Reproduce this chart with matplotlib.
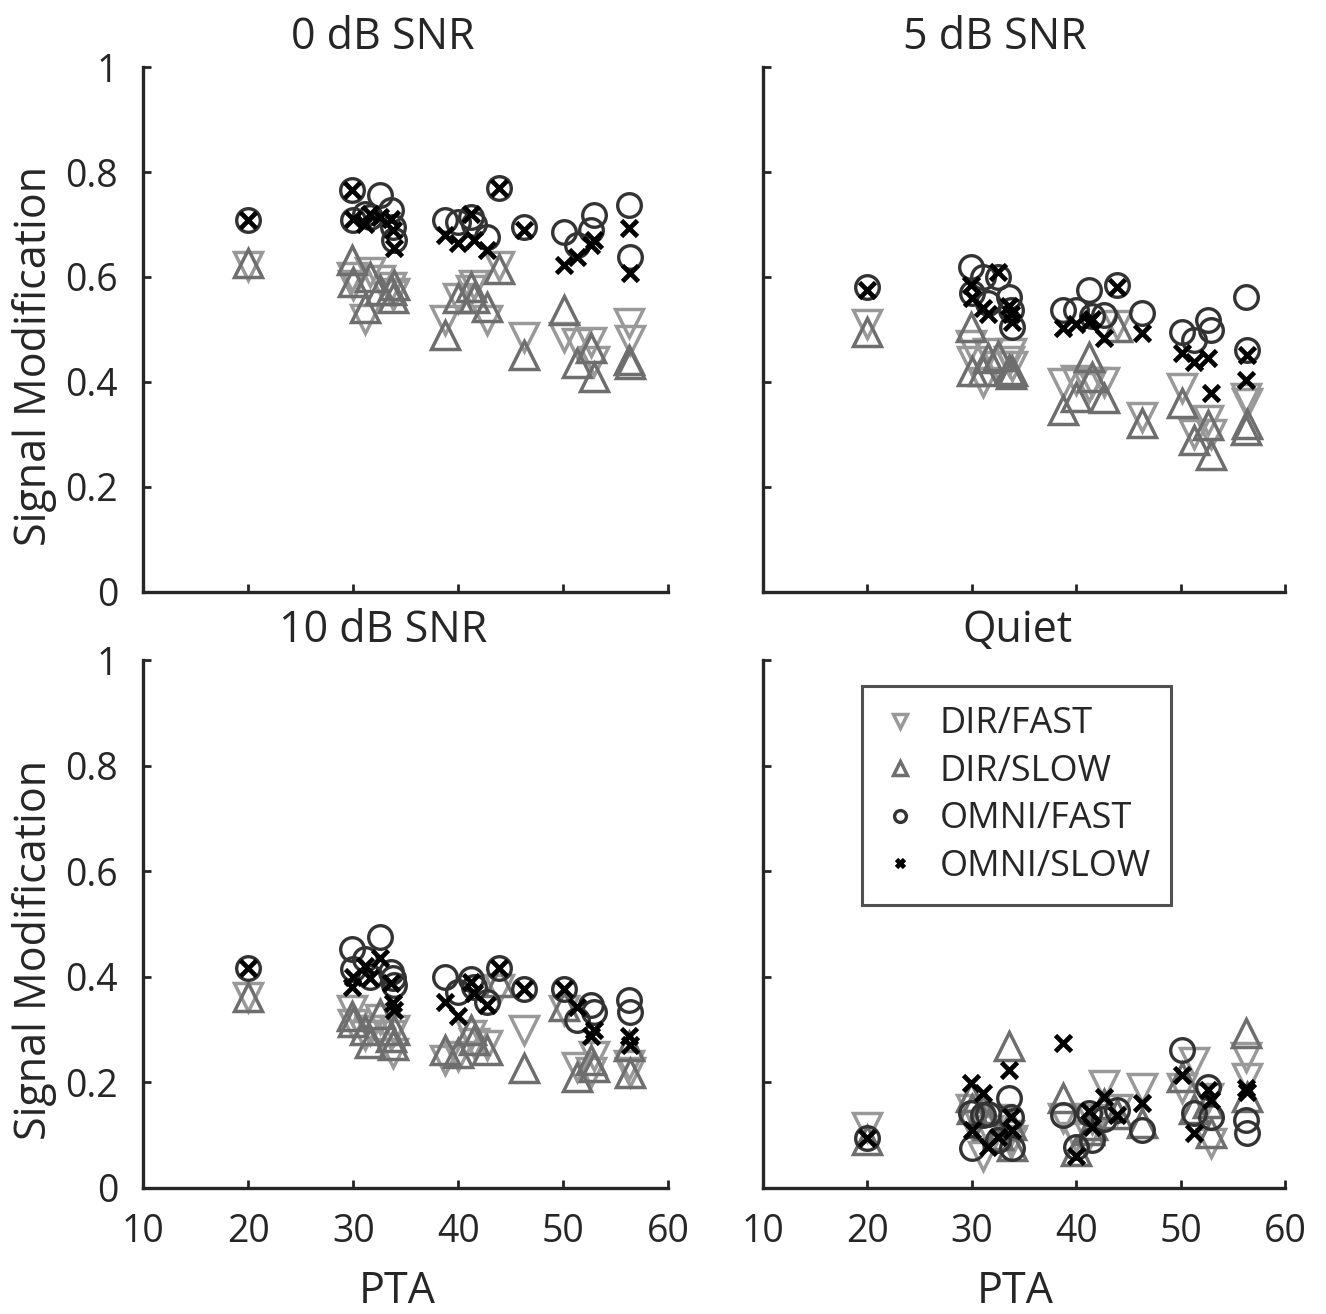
import matplotlib
matplotlib.use('Agg')
import matplotlib.pyplot as plt

plt.rcParams['font.family'] = ['Open Sans', 'DejaVu Sans']

# PTA of each listener (dB HL)
pta = [20.0, 29.9, 30.0, 31.1, 31.6, 32.5, 33.6, 33.8, 33.9, 38.7, 40.0,
       41.2, 41.5, 42.7, 43.9, 46.3, 50.1, 51.3, 52.6, 52.9, 56.3, 56.4]

# 0 dB SNR
snr0_dir_fast = [0.62, 0.60, 0.585, 0.52, 0.61, 0.595, 0.58, 0.565, 0.57, 0.518, 0.56,
                 0.575, 0.585, 0.518, 0.62, 0.486, 0.486, 0.474, 0.476, 0.44, 0.512, 0.48]
snr0_dir_slow = [0.627, 0.632, 0.59, 0.54, 0.60, 0.575, 0.575, 0.56, 0.585, 0.49, 0.56,
                 0.58, 0.56, 0.543, 0.615, 0.451, 0.537, 0.436, 0.465, 0.41, 0.442, 0.435]
snr0_omni_fast = [0.709, 0.766, 0.709, 0.72, 0.715, 0.756, 0.727, 0.695, 0.67, 0.709, 0.705,
                  0.714, 0.70, 0.677, 0.77, 0.695, 0.686, 0.66, 0.69, 0.718, 0.737, 0.638]
snr0_omni_slow = [0.709, 0.766, 0.71, 0.70, 0.72, 0.715, 0.71, 0.69, 0.655, 0.68, 0.665,
                  0.72, 0.67, 0.651, 0.77, 0.69, 0.623, 0.638, 0.661, 0.67, 0.693, 0.608]

# 5 dB SNR
snr5_dir_fast = [0.51, 0.47, 0.44, 0.40, 0.455, 0.43, 0.44, 0.455, 0.43, 0.398, 0.404,
                 0.39, 0.40, 0.40, 0.508, 0.333, 0.388, 0.30, 0.328, 0.30, 0.37, 0.36]
snr5_dir_slow = [0.495, 0.505, 0.42, 0.42, 0.445, 0.45, 0.423, 0.415, 0.42, 0.347, 0.372,
                 0.448, 0.41, 0.37, 0.505, 0.322, 0.36, 0.29, 0.318, 0.261, 0.309, 0.32]
snr5_omni_fast = [0.581, 0.619, 0.57, 0.60, 0.55, 0.60, 0.562, 0.537, 0.505, 0.537, 0.537,
                  0.575, 0.525, 0.528, 0.585, 0.531, 0.495, 0.48, 0.518, 0.499, 0.562, 0.461]
snr5_omni_slow = [0.575, 0.585, 0.56, 0.54, 0.53, 0.61, 0.545, 0.53, 0.515, 0.503, 0.51,
                  0.515, 0.52, 0.484, 0.58, 0.493, 0.455, 0.438, 0.446, 0.379, 0.404, 0.452]

# 10 dB SNR
snr10_dir_fast = [0.362, 0.338, 0.31, 0.29, 0.30, 0.32, 0.29, 0.256, 0.30, 0.243, 0.25,
                  0.29, 0.275, 0.27, 0.376, 0.30, 0.338, 0.23, 0.22, 0.25, 0.233, 0.22]
snr10_dir_slow = [0.362, 0.325, 0.315, 0.30, 0.275, 0.33, 0.286, 0.27, 0.30, 0.262, 0.256,
                  0.30, 0.28, 0.262, 0.39, 0.228, 0.345, 0.211, 0.243, 0.23, 0.268, 0.218]
snr10_omni_fast = [0.417, 0.452, 0.414, 0.433, 0.40, 0.476, 0.41, 0.398, 0.385, 0.40, 0.372,
                   0.395, 0.38, 0.353, 0.417, 0.376, 0.376, 0.319, 0.347, 0.334, 0.357, 0.334]
snr10_omni_slow = [0.417, 0.38, 0.40, 0.42, 0.398, 0.436, 0.389, 0.351, 0.338, 0.353, 0.325,
                   0.39, 0.37, 0.347, 0.417, 0.376, 0.376, 0.342, 0.287, 0.30, 0.287, 0.271]

# Quiet
quiet_dir_fast = [0.115, 0.15, 0.12, 0.06, 0.11, 0.13, 0.10, 0.085, 0.09, 0.133, 0.097,
                  0.10, 0.13, 0.195, 0.15, 0.19, 0.19, 0.239, 0.17, 0.085, 0.249, 0.209]
quiet_dir_slow = [0.09, 0.173, 0.15, 0.15, 0.12, 0.10, 0.268, 0.12, 0.08, 0.17, 0.07,
                  0.11, 0.12, 0.16, 0.14, 0.123, 0.21, 0.15, 0.161, 0.104, 0.294, 0.173]
quiet_omni_fast = [0.095, 0.142, 0.076, 0.139, 0.14, 0.09, 0.17, 0.135, 0.076, 0.139, 0.078,
                   0.142, 0.091, 0.13, 0.148, 0.11, 0.262, 0.142, 0.192, 0.135, 0.129, 0.104]
quiet_omni_slow = [0.095, 0.199, 0.11, 0.18, 0.078, 0.097, 0.224, 0.135, 0.11, 0.275, 0.06,
                   0.145, 0.116, 0.173, 0.139, 0.161, 0.214, 0.104, 0.186, 0.167, 0.19, 0.182]

panels = [
    ('0 dB SNR', [snr0_dir_fast, snr0_dir_slow, snr0_omni_fast, snr0_omni_slow]),
    ('5 dB SNR', [snr5_dir_fast, snr5_dir_slow, snr5_omni_fast, snr5_omni_slow]),
    ('10 dB SNR', [snr10_dir_fast, snr10_dir_slow, snr10_omni_fast, snr10_omni_slow]),
    ('Quiet', [quiet_dir_fast, quiet_dir_slow, quiet_omni_fast, quiet_omni_slow]),
]

labels = ['DIR/FAST', 'DIR/SLOW', 'OMNI/FAST', 'OMNI/SLOW']
markers = ['v', '^', 'o', 'x']
colors = ['#999999', '#6e6e6e', '#333333', '#000000']
sizes = [20, 20, 17, 12]
widths = [2.5, 2.5, 2.4, 3.4]

fig = plt.figure(figsize=(13.26, 13.14), dpi=100)
boxes = [
    [0.108, 0.5495, 0.396, 0.3995],
    [0.5754, 0.5495, 0.3936, 0.3995],
    [0.108, 0.0959, 0.396, 0.4018],
    [0.5754, 0.0959, 0.3936, 0.4018],
]
title_x = [0.457, 0.444, 0.457, 0.487]

tick_fs = 27
title_fs = 31
label_fs = 31
dark = '#262626'
for i, (title, series) in enumerate(panels):
    ax = fig.add_axes(boxes[i])
    for vals, lab, m, c, s, w in zip(series, labels, markers, colors, sizes, widths):
        ax.plot(pta, vals, linestyle='none', marker=m, markersize=s,
                markerfacecolor='none', markeredgecolor=c, markeredgewidth=w,
                label=lab)
    ax.set_xlim(10, 60)
    ax.set_ylim(0, 1)
    ax.set_xticks([10, 20, 30, 40, 50, 60])
    ax.set_yticks([0, 0.2, 0.4, 0.6, 0.8, 1])
    ax.spines['top'].set_visible(False)
    ax.spines['right'].set_visible(False)
    for sp in ['left', 'bottom']:
        ax.spines[sp].set_linewidth(2.4)
        ax.spines[sp].set_color(dark)
    ax.tick_params(direction='in', length=6, width=2, colors=dark,
                   labelsize=tick_fs, labelcolor=dark)
    ax.tick_params(axis='y', pad=18)
    ax.tick_params(axis='x', pad=18)
    ax.set_title(title, fontsize=title_fs, color=dark, pad=13, x=title_x[i])
    if i % 2 == 0:
        ax.set_yticklabels(['0', '0.2', '0.4', '0.6', '0.8', '1'])
        ax.set_ylabel('Signal Modification', fontsize=label_fs, color=dark)
        ax.yaxis.set_label_coords(-0.165, 0.45)
    else:
        ax.set_yticklabels([])
    if i < 2:
        ax.set_xticklabels([])
    else:
        ax.set_xlabel('PTA', fontsize=label_fs, color=dark)
        ax.xaxis.set_label_coords(0.483, -0.155)
    if i == 3:
        leg = ax.legend(loc='upper left', bbox_to_anchor=(0.19, 0.95), fontsize=26,
                        markerscale=0.5, frameon=True, fancybox=False,
                        handlelength=1.0, handletextpad=0.6, borderpad=0.55,
                        labelspacing=0.32, borderaxespad=0)
        leg.get_frame().set_edgecolor(dark)
        leg.get_frame().set_linewidth(2.2)
        for t in leg.get_texts():
            t.set_color(dark)

fig.savefig('out.png', dpi=100)
